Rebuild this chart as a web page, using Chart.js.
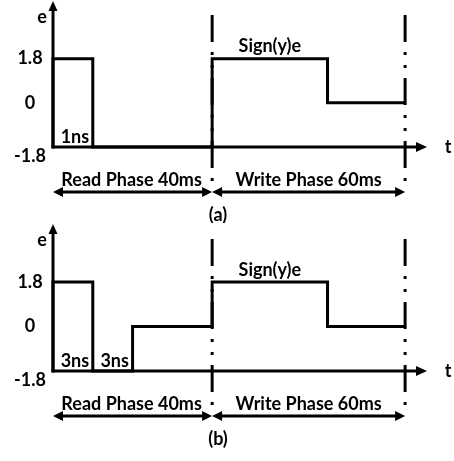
<!DOCTYPE html>
<html>
<head>
<meta charset="utf-8">
<script src="https://cdn.jsdelivr.net/npm/chart.js@4.4.1/dist/chart.umd.min.js"></script>
<style>
  html, body { margin: 0; padding: 0; background: #fff; }
  #wrap { position: relative; width: 454px; height: 461px; }
  canvas { position: absolute; left: 0; }
</style>
</head>
<body>
<div id="wrap">
  <canvas id="chartA" width="454" height="223" style="top:0px"></canvas>
  <canvas id="chartB" width="454" height="238" style="top:223px"></canvas>
</div>
<script>
//DATA
const yTicks = [1.8, 0, -1.8];
const phaseEdges = [0, 40, 88.5];
const phaseNames = ["Read Phase 40ms", "Write Phase 60ms"];

const signalA_t = [0, 0, 10, 40, 69, 88.5];
const signalA_e = [-1.8, 1.8, -1.8, 1.8, 0, 0];
const pulseA_t = [5];
const pulseA_text = ["1ns"];

const signalB_t = [0, 0, 10, 20, 40, 69, 88.5];
const signalB_e = [-1.8, 1.8, -1.8, 0, 1.8, 0, 0];
const pulseB_t = [5, 15];
const pulseB_text = ["3ns", "3ns"];

const writeLabel = "Sign(y)e";
const writeLabel_t = 54.5;

const FONT = "bold 18px Lato, 'Open Sans', sans-serif";

//DRAW HELPERS
function arrowHead(ctx, x, y, dir, len, half) {
  // dir: 'up', 'right', 'left'
  ctx.beginPath();
  if (dir === "up") {
    ctx.moveTo(x, y);
    ctx.lineTo(x - half, y + len);
    ctx.lineTo(x + half, y + len);
  } else if (dir === "right") {
    ctx.moveTo(x, y);
    ctx.lineTo(x - len, y - half);
    ctx.lineTo(x - len, y + half);
  } else {
    ctx.moveTo(x, y);
    ctx.lineTo(x + len, y - half);
    ctx.lineTo(x + len, y + half);
  }
  ctx.closePath();
  ctx.fill();
}

function line(ctx, x1, y1, x2, y2) {
  ctx.beginPath();
  ctx.moveTo(x1, y1);
  ctx.lineTo(x2, y2);
  ctx.stroke();
}

//PLUGIN - AXES, PHASE MARKERS AND TEXT
const diagramPlugin = {
  id: "diagram",
  beforeDatasetsDraw(chart, args, opts) {
    const ctx = chart.ctx;
    const x = chart.scales.x;
    const y = chart.scales.y;
    const area = chart.chartArea;
    const x0 = x.getPixelForValue(0);
    const yBase = y.getPixelForValue(-1.8);
    ctx.save();
    ctx.strokeStyle = "#000";
    ctx.fillStyle = "#000";
    ctx.lineWidth = 3;
    ctx.lineCap = "butt";

    // e axis
    line(ctx, x0, yBase + 1.5, x0, area.top + 8);
    arrowHead(ctx, x0, area.top, "up", 10, 4.5);
    // t axis
    line(ctx, x0 - 1.5, yBase, area.right - 8, yBase);
    arrowHead(ctx, area.right, yBase, "right", 11, 5);

    // phase boundaries (dash dot dot)
    ctx.setLineDash([27, 10, 3, 10, 3, 10]);
    phaseEdges.slice(1).forEach((t) => {
      const px = x.getPixelForValue(t);
      line(ctx, px, yBase - 132, px, yBase + 35);
    });
    ctx.setLineDash([]);
    ctx.restore();
  },
  afterDraw(chart, args, opts) {
    const ctx = chart.ctx;
    const x = chart.scales.x;
    const y = chart.scales.y;
    const area = chart.chartArea;
    const x0 = x.getPixelForValue(0);
    const yBase = y.getPixelForValue(-1.8);
    ctx.save();
    ctx.fillStyle = "#000";
    ctx.strokeStyle = "#000";
    ctx.font = FONT;
    ctx.textAlign = "center";
    ctx.textBaseline = "middle";

    // tick labels
    yTicks.forEach((v) => {
      const off = v === -1.8 ? 9 : 0;
      ctx.fillText(String(v), 30, y.getPixelForValue(v) + off);
    });

    // axis names
    ctx.fillText("e", 42, area.top + 16);
    ctx.fillText("t", 448, yBase);

    // pulse width labels
    opts.pulse_t.forEach((t, i) => {
      ctx.fillText(opts.pulse_text[i], x.getPixelForValue(t) + 2, yBase - 10);
    });

    // write value label
    ctx.fillText(writeLabel, x.getPixelForValue(writeLabel_t), y.getPixelForValue(1.8) - 12);

    // phase names and double arrows
    ctx.lineWidth = 3;
    for (let i = 0; i < phaseNames.length; i++) {
      const a = x.getPixelForValue(phaseEdges[i]);
      const b = x.getPixelForValue(phaseEdges[i + 1]);
      ctx.fillText(phaseNames[i], (a + b) / 2 + (i === 0 ? -1 : 0), yBase + 33);
      line(ctx, a + 8, yBase + 45, b - 8, yBase + 45);
      arrowHead(ctx, a, yBase + 45, "left", 10, 5);
      arrowHead(ctx, b, yBase + 45, "right", 10, 5);
    }

    // caption
    ctx.fillText(opts.caption, 218, yBase + 68);
    ctx.restore();
  },
};

//CHART BUILDER
function makeChart(id, ts, es, pulse_t, pulse_text, caption, padBottom) {
  const points = ts.map((t, i) => ({ x: t, y: es[i] }));
  return new Chart(document.getElementById(id), {
    type: "line",
    data: {
      datasets: [
        {
          data: points,
          borderColor: "#000",
          borderWidth: 3,
          stepped: "before",
          pointRadius: 0,
          fill: false,
          clip: false,
          borderJoinStyle: "miter",
          borderCapStyle: "butt",
        },
      ],
    },
    options: {
      responsive: false,
      animation: false,
      events: [],
      layout: { padding: { left: 53, right: 27, top: 1, bottom: padBottom } },
      scales: {
        x: { type: "linear", min: 0, max: 94, display: false },
        y: { type: "linear", min: -1.8, max: 4.15, display: false },
      },
      plugins: {
        legend: { display: false },
        tooltip: { enabled: false },
        diagram: { pulse_t, pulse_text, caption },
      },
    },
    plugins: [diagramPlugin],
  });
}

makeChart("chartA", signalA_t, signalA_e, pulseA_t, pulseA_text, "(a)", 76);
makeChart("chartB", signalB_t, signalB_e, pulseB_t, pulseB_text, "(b)", 90);
</script>
</body>
</html>
